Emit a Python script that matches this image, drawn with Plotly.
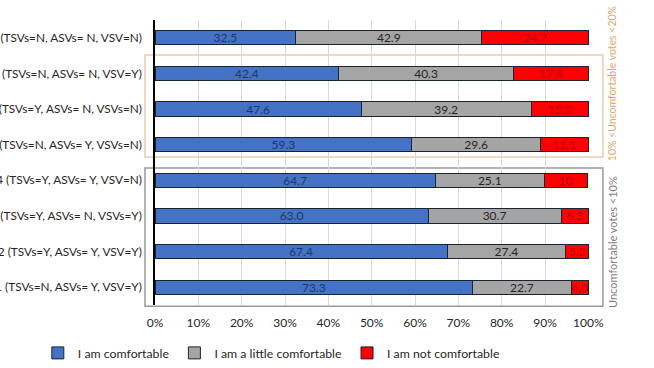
import plotly.graph_objects as go

categories = [
    "Scenario 8 (TSVs=N, ASVs= N, VSV=N)",
    "Scenario 7 (TSVs=N, ASVs= N, VSV=Y)",
    "Scenario 6 (TSVs=Y, ASVs= N, VSVs=N)",
    "Scenario 5 (TSVs=N, ASVs= Y, VSVs=N)",
    "Scenario 4 (TSVs=Y, ASVs= Y, VSV=N)",
    "Scenario 3 (TSVs=Y, ASVs= N, VSVs=Y)",
    "Scenario 2 (TSVs=Y, ASVs= Y, VSV=Y)",
    "Scenario 1 (TSVs=N, ASVs= Y, VSV=Y)",
]
comfortable = [32.5, 42.4, 47.6, 59.3, 64.7, 63.0, 67.4, 73.3]
little = [42.9, 40.3, 39.2, 29.6, 25.1, 30.7, 27.4, 22.7]
not_comf = [24.7, 17.4, 13.2, 11.1, 10, 6.3, 5.3, 4.0]
comfortable_txt = ["32.5", "42.4", "47.6", "59.3", "64.7", "63.0", "67.4", "73.3"]
little_txt = ["42.9", "40.3", "39.2", "29.6", "25.1", "30.7", "27.4", "22.7"]
not_txt = ["24.7", "17.4", "13.2", "11.1", "10", "6.3", "5.3", "4.0"]
series_names = ["I am comfortable", "I am a little comfortable", "I am not comfortable"]
tick_vals = [0, 10, 20, 30, 40, 50, 60, 70, 80, 90, 100]
tick_text = ["0%", "10%", "20%", "30%", "40%", "50%", "60%", "70%", "80%", "90%", "100%"]
note_mid = "10% <Uncomfortable votes <20%"
note_low = "Uncomfortable votes <10%"

FONT = "Lato, 'Open Sans', sans-serif"
fig = go.Figure()
specs = [
    (comfortable, comfortable_txt, series_names[0], "#4472C4", "#1F3864"),
    (little, little_txt, series_names[1], "#A5A5A5", "#262626"),
    (not_comf, not_txt, series_names[2], "#FF0000", "#B00000"),
]
for vals, txt, name, col, tcol in specs:
    fig.add_trace(go.Bar(
        y=categories, x=vals, name=name, orientation="h",
        text=txt, textposition="inside", insidetextanchor="middle",
        textangle=0,
        textfont=dict(color=tcol, size=12, family=FONT),
        marker=dict(color=col, line=dict(color="#1C2333", width=1)),
        width=0.4,
    ))

fig.update_layout(
    barmode="stack",
    width=654, height=368,
    margin=dict(l=155, r=65, t=20, b=63, autoexpand=False),
    paper_bgcolor="white", plot_bgcolor="white",
    font=dict(family=FONT, size=12, color="#262626"),
    uniformtext=dict(minsize=12, mode="show"),
    legend=dict(orientation="h", x=-0.27, xanchor="left", y=-0.168, yanchor="middle",
                font=dict(size=12.3, color="#262626"), traceorder="normal",
                itemwidth=30, tracegroupgap=0, bgcolor="rgba(0,0,0,0)"),
    showlegend=True,
)
fig.update_xaxes(
    range=[0, 100.15], tickvals=tick_vals, ticktext=tick_text,
    showgrid=True, gridcolor="#D9D9D9", gridwidth=1,
    zeroline=False, showline=False, ticks="", ticklabelstandoff=9,
    tickfont=dict(size=12, color="#262626"),
)
fig.update_yaxes(
    categoryorder="array", categoryarray=categories, autorange=False,
    range=[7.5, -0.5], automargin=False,
    showline=True, linecolor="#000000", linewidth=1.5,
    ticks="", showgrid=False, ticklabelstandoff=9,
    tickfont=dict(size=11.8, color="#262626"),
)

fig.add_shape(type="rect", xref="paper", yref="paper",
              x0=-0.023, x1=1.032, y0=0.519, y1=0.877,
              line=dict(color="#E8CDB0", width=1.5), fillcolor="rgba(0,0,0,0)", layer="below")
fig.add_shape(type="rect", xref="paper", yref="paper",
              x0=-0.023, x1=1.032, y0=-0.004, y1=0.481,
              line=dict(color="#9A9A9A", width=1.5), fillcolor="rgba(0,0,0,0)", layer="below")

fig.add_annotation(text=note_mid, xref="paper", yref="paper", x=1.053, y=0.775,
                   xanchor="center", yanchor="middle",
                   textangle=-90, showarrow=False,
                   font=dict(size=10.5, color="#E3A868", family=FONT))
fig.add_annotation(text=note_low, xref="paper", yref="paper", x=1.053, y=0.221,
                   xanchor="center", yanchor="middle",
                   textangle=-90, showarrow=False,
                   font=dict(size=11, color="#7F7F7F", family=FONT))

# remove the default 8px page margin so the figure fills the window exactly
fig.write_html("out.html", config={"displayModeBar": False},
               post_script="document.body.style.margin='0';")
